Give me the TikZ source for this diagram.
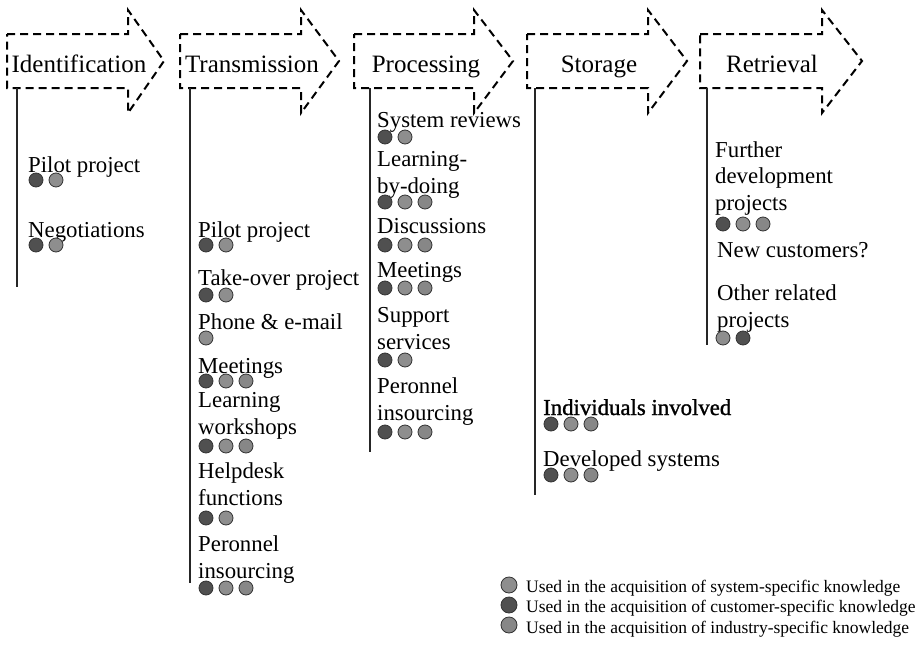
\documentclass[tikz,border=0pt]{standalone}
\usepackage{fontspec}
\setmainfont{Liberation Serif}
\newfontfamily\heavyserif[FakeBold=1.2]{Liberation Serif}

\definecolor{custgray}{HTML}{505050}
\definecolor{sysgray}{HTML}{8E8E8E}
\definecolor{indgray}{HTML}{878787}

% a row of knowledge dots under an activity: name, x, y, colours
\newcommand{\kdots}[4]{\foreach \c [count=\i] in {#4}
  \node[kdot, fill=\c] (#1-\i) at ({#2+8+20*(\i-1)},#3) {};}

\begin{document}
\begin{tikzpicture}[
    x=1pt, y=-1pt,
    stagearrow/.style={draw, line width=2pt, dash pattern=on 8pt off 5pt},
    stagelabel/.style={font=\fontsize{25}{30}\selectfont, anchor=base, inner sep=0pt},
    stageline/.style={line width=2pt, black!85},
    acttext/.style={font=\fontsize{22.8}{26.5}\selectfont, anchor=base west, inner sep=0pt, align=left},
    kdot/.style={circle, draw=black!80, line width=0.8pt, minimum size=14pt, inner sep=0pt},
    legenddot/.style={kdot, minimum size=16pt},
    legendtext/.style={font=\fontsize{17.5}{20}\selectfont, anchor=base west, inner sep=0pt}
]
\useasboundingbox (0,0) rectangle (922,651);

% the five stages
\foreach \l/\h/\t/\nm/\txt in {7/128/164/ident/Identification, 180/301/339/trans/Transmission,
    354/474/513/proc/Processing, 527/648/687/stor/Storage, 700/822/862/retr/Retrieval}{
  \draw[stagearrow] (\l,34) -- (\h,34) -- (\h,10) -- (\t,61) -- (\h,113) -- (\h,88) -- (\l,88) -- cycle;
  \node[stagelabel] (\nm) at (\l+72,72) {\txt};
}

% column rules
\foreach \nm/\x/\y in {ident/17/287, trans/190/583, proc/370/452, stor/535/495, retr/707/345}{
  \coordinate (\nm-top) at (\x,88);
  \coordinate (\nm-end) at (\x,\y);
  \draw[stageline] (\nm-top) -- (\nm-end);
}

% identification (y = baseline of the last line)
\node[acttext] (id-pilot) at (28,172) {Pilot project};
\kdots{id-pilot}{28}{180}{custgray,sysgray}
\node[acttext] (id-nego) at (28,237) {Negotiations};
\kdots{id-nego}{28}{245}{custgray,sysgray}

% transmission
\node[acttext] (tr-pilot) at (198,237) {Pilot project};
\kdots{tr-pilot}{198}{245}{custgray,sysgray}
\node[acttext] (tr-take) at (198,285) {Take-over project};
\kdots{tr-take}{198}{295}{custgray,sysgray}
\node[acttext] (tr-phone) at (198,329) {Phone \& e-mail};
\kdots{tr-phone}{198}{338}{sysgray}
\node[acttext] (tr-meet) at (198,373) {Meetings};
\kdots{tr-meet}{198}{381}{custgray,sysgray,indgray}
\node[acttext] (tr-learn) at (198,434) {Learning\\workshops};
\kdots{tr-learn}{198}{446}{custgray,sysgray,indgray}
\node[acttext] (tr-help) at (198,505) {Helpdesk\\functions};
\kdots{tr-help}{198}{518}{custgray,sysgray}
\node[acttext] (tr-pers) at (198,578) {Peronnel\\insourcing};
\kdots{tr-pers}{198}{588}{custgray,sysgray,indgray}

% processing
\node[acttext] (pr-rev) at (377,127) {System reviews};
\kdots{pr-rev}{377}{137}{custgray,sysgray}
\node[acttext] (pr-lbd) at (377,193) {Learning-\\by-doing};
\kdots{pr-lbd}{377}{202}{custgray,sysgray,indgray}
\node[acttext] (pr-disc) at (377,233) {Discussions};
\kdots{pr-disc}{377}{245}{custgray,sysgray,indgray}
\node[acttext] (pr-meet) at (377,277) {Meetings};
\kdots{pr-meet}{377}{288}{custgray,sysgray,indgray}
\node[acttext] (pr-supp) at (377,349) {Support\\services};
\kdots{pr-supp}{377}{360}{custgray,sysgray}
\node[acttext] (pr-pers) at (377,420) {Peronnel\\insourcing};
\kdots{pr-pers}{377}{432}{custgray,sysgray,indgray}

% storage
\node[acttext, font=\fontsize{22.8}{26.5}\heavyserif] (st-indiv) at (543,415) {Individuals involved};
\kdots{st-indiv}{543}{424}{custgray,sysgray,indgray}
\node[acttext] (st-dev) at (543,466) {Developed systems};
\kdots{st-dev}{543}{475}{custgray,sysgray,indgray}

% retrieval
\node[acttext] (re-further) at (715,210) {Further\\development\\projects};
\kdots{re-further}{715}{224}{custgray,sysgray,indgray}
\node[acttext] (re-new) at (717,257) {New customers?};
\node[acttext] (re-other) at (717,327) {Other related\\projects};
\kdots{re-other}{715}{338}{sysgray,custgray}

% legend
\node[legenddot, fill=sysgray] (lg-sys) at (509,585) {};
\node[legendtext] (lg-sys-txt) at (526,592) {Used in the acquisition of system-specific knowledge};
\node[legenddot, fill=custgray] (lg-cust) at (509,605) {};
\node[legendtext] (lg-cust-txt) at (526,612) {Used in the acquisition of customer-specific knowledge};
\node[legenddot, fill=indgray] (lg-ind) at (509,625) {};
\node[legendtext] (lg-ind-txt) at (526,633) {Used in the acquisition of industry-specific knowledge};
\end{tikzpicture}
\end{document}
